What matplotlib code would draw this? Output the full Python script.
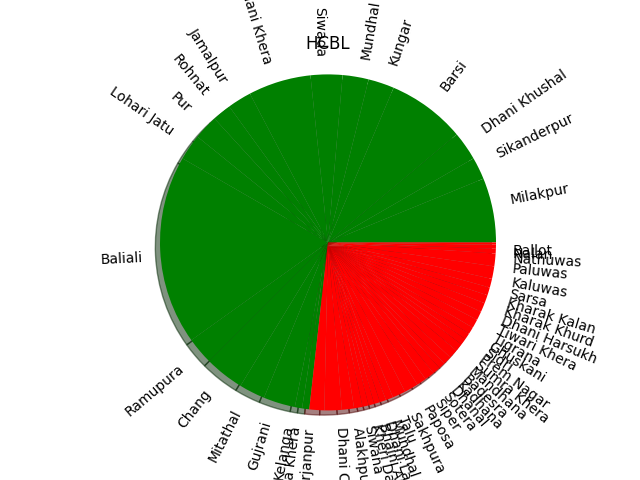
import matplotlib
matplotlib.use("Agg")
import matplotlib.pyplot as plt

green_labels = ["Milakpur", "Sikanderpur", "Dhani Khushal", "Barsi", "Kungar", "Mundhal",
                "Siwada", "Bhani Khera", "Jamalpur", "Rohnat", "Pur", "Lohari Jatu",
                "Baliali", "Ramupura", "Chang", "Mitathal", "Gujrani", "Kelanga",
                "Dhiya Khera"]
green_values = [22.3, 7.7, 10.0, 27.0, 9.0, 9.0, 11.0, 21.7, 8.3, 6.5, 8.5, 9.0,
                65.6, 9.4, 13.6, 9.0, 11.0, 2.5, 2.5]

red_labels = ["Mirjanpur", "Dhani Chandi", "Alakhpura", "Siwana", "Kheri Dabra",
              "Bhaini Amirpur", "Dhani Langan", "Mundhal Khurd", "Talu", "Sakhpura",
              "Paposa", "Siper", "Sotera", "Dhanal", "Kadhana", "Badesra", "Mandhana",
              "Sumra Khera", "Prem Nagar", "Sidri", "Ghuskani", "Tigrana", "Tiwari Khera",
              "Dhani Harsukh", "Kharak Khurd", "Kharak Kalan", "Sarsa", "Kaluwas",
              "Paluwas", "Nathuwas", "Nalan", "Ballot"]
red_values = [5.15, 6.0, 4.2, 2.9, 2.15, 2.0, 2.0, 2.2, 2.55, 4.55, 4.85, 3.35, 3.45,
              2.65, 2.25, 2.9, 3.15, 2.7, 2.25, 2.2, 2.45, 3.05, 3.1, 3.1, 2.9, 2.75,
              3.05, 4.35, 4.4, 1.6, 1.4, 0.8]

labels = green_labels + red_labels
values = green_values + red_values
colors = ["green"] * len(green_values) + ["red"] * len(red_values)

fig = plt.figure(figsize=(6.4, 4.8), dpi=100)
plt.pie(values, labels=labels, colors=colors, shadow=True, rotatelabels=True)
plt.axis("equal")
plt.title("HCBL")
plt.savefig("out.png", dpi=100)
